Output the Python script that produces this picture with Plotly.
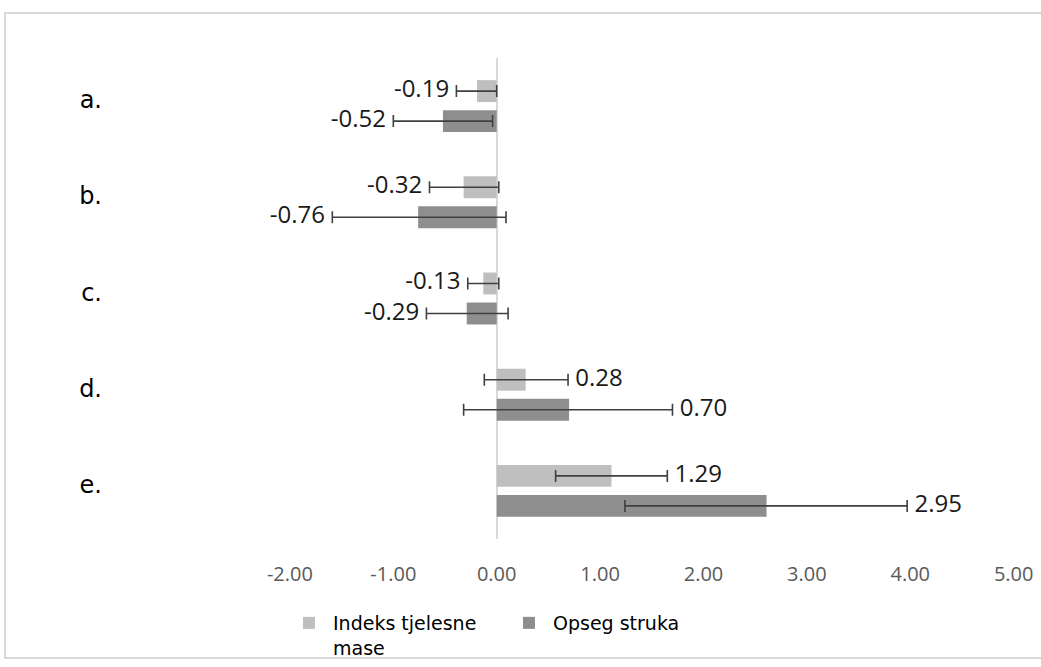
import plotly.graph_objects as go

# ---- data ----
categories = ["a.", "b.", "c.", "d.", "e."]
bmi_values = [-0.19, -0.32, -0.13, 0.28, 1.11]
waist_values = [-0.52, -0.76, -0.29, 0.70, 2.61]
bmi_labels = ["-0.19", "-0.32", "-0.13", "0.28", "1.29"]
waist_labels = ["-0.52", "-0.76", "-0.29", "0.70", "2.95"]
bmi_low = [-0.39, -0.65, -0.28, -0.12, 0.57]
bmi_high = [0.00, 0.02, 0.02, 0.69, 1.65]
waist_low = [-1.00, -1.59, -0.68, -0.32, 1.24]
waist_high = [-0.04, 0.09, 0.11, 1.70, 3.97]
x_ticks = [-2, -1, 0, 1, 2, 3, 4, 5]
series_names = ["Indeks tjelesne<br>mase", "Opseg struka"]

# ---- layout constants ----
W, H = 1041, 667
ML, MR, MT, MB = 109, 17, 58, 128
OFF, BW = 0.156, 0.228
LABEL_SHIFT = 0.065
LIGHT, DARK = "#bfbfbf", "#8e8e8e"
ERR = "#404040"

idx = list(range(len(categories)))

fig = go.Figure()

def add_series(vals, lows, highs, labels, name, color, sign):
    ys = [i + sign * OFF for i in idx]
    plus = [h - v for h, v in zip(highs, vals)]
    minus = [v - l for l, v in zip(lows, vals)]
    fig.add_trace(go.Bar(
        x=vals, y=ys, orientation="h", width=BW, name=name,
        marker=dict(color=color, line=dict(width=0)),
        error_x=dict(type="data", array=plus, arrayminus=minus, symmetric=False,
                     color=ERR, thickness=1.6, width=6),
    ))
    tx = [l if v < 0 else h for v, l, h in zip(vals, lows, highs)]
    tp = ["middle left" if v < 0 else "middle right" for v in vals]
    fig.add_trace(go.Scatter(
        x=tx, y=ys, mode="markers+text", text=labels, textposition=tp,
        marker=dict(size=10, color="rgba(0,0,0,0)"),
        textfont=dict(family="Open Sans", size=24, color="#1a1a1a"),
        showlegend=False, hoverinfo="skip",
    ))

add_series(bmi_values, bmi_low, bmi_high, bmi_labels, series_names[0], LIGHT, -1)
add_series(waist_values, waist_low, waist_high, waist_labels, series_names[1], DARK, +1)

pw = W - ML - MR
ph = H - MT - MB
def px_x(p):
    return (p - ML) / pw
def px_y(p):
    return (H - MB - p) / ph

fig.update_layout(
    width=W, height=H, autosize=False,
    margin=dict(l=ML, r=MR, t=MT, b=MB, autoexpand=False),
    paper_bgcolor="white", plot_bgcolor="white",
    barmode="overlay",
    showlegend=True,
    xaxis=dict(
        range=[-3.75, 5.1], tickvals=x_ticks,
        ticktext=[f"{v:.2f}" for v in x_ticks],
        showgrid=False, zeroline=True, zerolinecolor="#d9d9d9", zerolinewidth=2,
        showline=False, ticks="", ticklabelstandoff=21, automargin=False,
        tickfont=dict(family="Open Sans", size=20, color="#595959"),
        fixedrange=True,
    ),
    yaxis=dict(
        range=[len(categories) - 0.5, -0.5],
        tickvals=[i - LABEL_SHIFT for i in idx], ticktext=categories,
        showgrid=False, zeroline=False, showline=False, ticks="",
        ticklabelstandoff=6, automargin=False,
        tickfont=dict(family="DejaVu Sans", size=24, color="#000000"),
    ),
    legend=dict(
        orientation="h", xref="container", yref="container",
        x=285 / W, y=1 - 604 / H, xanchor="left", yanchor="top",
        font=dict(family="DejaVu Sans", size=19, color="#000000"),
        bgcolor="rgba(255,255,255,0)", valign="top", entrywidth=167,
        itemwidth=38, traceorder="normal",
    ),
    shapes=[dict(
        type="rect", xref="paper", yref="paper",
        x0=px_x(5), x1=px_x(1060), y0=px_y(658), y1=px_y(13),
        line=dict(color="#d9d9d9", width=2), fillcolor="rgba(0,0,0,0)", layer="below",
    )],
)

fig.write_html(
    "out.html",
    config={"displayModeBar": False},
    post_script="document.body.style.margin='0';document.body.style.overflow='hidden';",
)
